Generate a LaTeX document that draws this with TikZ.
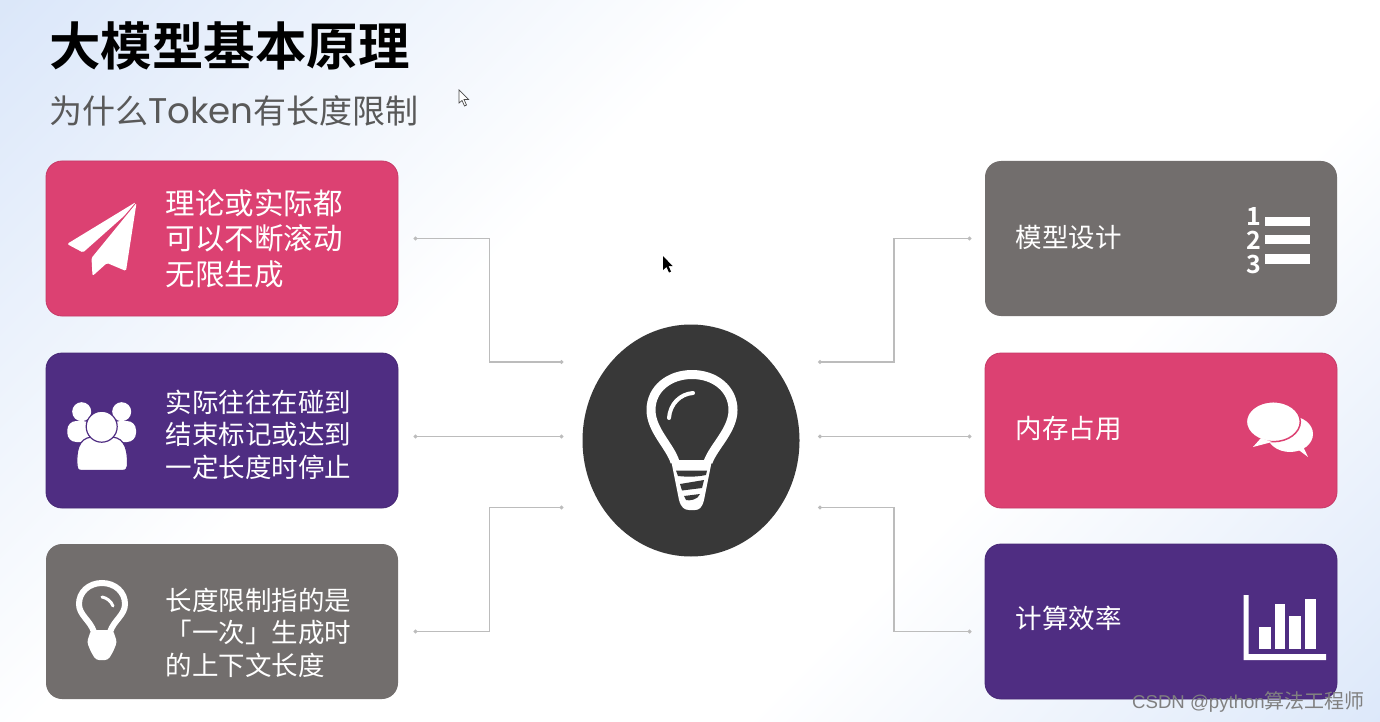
\documentclass[tikz,border=0pt]{standalone}
\usepackage{fontspec}
\setmainfont{Noto Sans CJK SC}[BoldFont={Noto Sans CJK SC Bold}]
\newfontfamily\latinfont[Scale=1.08]{Poppins}
\newfontfamily\markfont[Scale=0.93]{Liberation Sans}
\usetikzlibrary{arrows.meta,shapes.geometric}
\definecolor{bgblue}{HTML}{C6D9F6}
\definecolor{pinkbox}{HTML}{DC4172}
\definecolor{purplebox}{HTML}{4F2D82}
\definecolor{graybox}{HTML}{726E6D}
\definecolor{hubdark}{HTML}{383838}
\definecolor{wiregray}{HTML}{BCBCBC}
\pgfdeclarehorizontalshading{bgshade}{100bp}{color(0bp)=(bgblue); color(36bp)=(white); color(60bp)=(white); color(100bp)=(bgblue)}
\tikzset{
  card/.style={rectangle,rounded corners=16pt,minimum width=352pt,minimum height=155pt,inner sep=0pt},
  wire/.style={draw=wiregray,line width=1.1pt,{Circle[length=4pt]}-{Circle[length=4pt]}},
  bigtext/.style={anchor=west,align=left,text=white,inner sep=0pt,font=\fontsize{29.5}{35.5}\selectfont},
  smalltext/.style={anchor=west,align=left,text=white,inner sep=0pt,font=\fontsize{26.5}{32.5}\selectfont},
  listnum/.style={text=white,inner sep=0pt,font=\fontsize{25}{25}\selectfont\bfseries}
}
\begin{document}
\begin{tikzpicture}[x=1pt,y=-1pt]
\useasboundingbox (0,0) rectangle (1380,722);

% Background
\shade[shading=bgshade,shading angle=135] (0,0) rectangle (1380,722);

% Title
\node[anchor=west,inner sep=0pt,font=\fontsize{51.5}{60}\selectfont\bfseries] (title) at (49,46) {大模型基本原理};
\node[anchor=west,inner sep=0pt,text=black!65,font=\fontsize{33}{40}\selectfont] (subtitle) at (49,111) {为什么{\latinfont Token}有长度限制};

% Left cards
\node[card,fill=pinkbox,draw=pinkbox!90!black,line width=0.8pt] (cardla) at (222,238.5) {};
\node[card,fill=purplebox,draw=purplebox!90!black,line width=0.8pt] (cardlb) at (222,430.5) {};
\node[card,fill=graybox] (cardlc) at (222,621.5) {};

% Right cards
\node[card,fill=graybox] (cardra) at (1161,238.5) {};
\node[card,fill=pinkbox,draw=pinkbox!90!black,line width=0.8pt] (cardrb) at (1161,430.5) {};
\node[card,fill=purplebox,draw=purplebox!90!black,line width=0.8pt] (cardrc) at (1161,621.5) {};

% Card texts
\node[bigtext] (textla) at (165.5,238.5) {理论或实际都\\可以不断滚动\\无限生成};
\node[smalltext] (textlb) at (165.5,434.5) {实际往往在碰到\\结束标记或达到\\一定长度时停止};
\node[smalltext] (textlc) at (165.5,632.5) {长度限制指的是\\「一次」生成时\\的上下文长度};
\node[smalltext] (textra) at (1015.5,237) {模型设计};
\node[smalltext] (textrb) at (1015.5,428.5) {内存占用};
\node[smalltext] (textrc) at (1015.5,618) {计算效率};

% Hub
\node[ellipse,fill=hubdark,minimum width=217pt,minimum height=232pt,inner sep=0pt] (hub) at (691,440.5) {};

% Connector ends
\coordinate (la) at (413.5,238.5);
\coordinate (lb) at (413.5,436.5);
\coordinate (lc) at (413.5,631.5);
\coordinate (ra) at (971.5,238.5);
\coordinate (rb) at (971.5,436.5);
\coordinate (rc) at (971.5,631.5);
\coordinate (hla) at (563.5,362);
\coordinate (hlb) at (563.5,436.5);
\coordinate (hlc) at (563.5,507.5);
\coordinate (hra) at (818,362);
\coordinate (hrb) at (818,436.5);
\coordinate (hrc) at (818,507.5);

\draw[wire] (la) -- (489.5,238.5) -- (489.5,362) -- (hla);
\draw[wire] (lb) -- (hlb);
\draw[wire] (lc) -- (489.5,631.5) -- (489.5,507.5) -- (hlc);
\draw[wire] (ra) -- (894,238.5) -- (894,362) -- (hra);
\draw[wire] (rb) -- (hrb);
\draw[wire] (rc) -- (894,631.5) -- (894,507.5) -- (hrc);

% Hub bulb
\fill[white] (671,460) -- (712,460) -- (704,500) .. controls (702,508) and (699,510) .. (695,510) -- (689,510) .. controls (684,510) and (681,507) .. (679,500) -- cycle;
\draw[white,line width=9pt,line join=round] (675,462) .. controls (670,446) and (651,430) .. (651,410) .. controls (651,389) and (669,374.5) .. (692,374.5) .. controls (715,374.5) and (733,389) .. (733,410) .. controls (733,430) and (714,446) .. (708,462);
\fill[hubdark] (676,470.5) -- (707,470.5) -- (706,475) .. controls (697,477) and (687,477) .. (678,476) -- cycle;
\fill[hubdark] (680,484) -- (704,480) -- (702,488) -- (682,490.5) -- cycle;
\fill[hubdark] (684,496) -- (700,494) .. controls (698,500) and (689,501) .. (686,500) -- cycle;
\draw[white,line width=4pt,line cap=round] (693,393) .. controls (680,394) and (670,404) .. (669,418);

% Plane icon
\fill[white,rounded corners=1.5pt] (136,202) -- (67,244) -- (83,252.5) -- (124,216) -- cycle;
\fill[white,rounded corners=1.5pt] (136.5,203) -- (91.5,258) -- (92.5,276) -- (107,263) -- (126,271) -- cycle;

% People icon
\fill[white] (81.7,411.7) circle (9.5);
\fill[white] (121.7,411.7) circle (9.5);
\fill[white,rounded corners=9pt] (67.3,442) -- (67.3,421) -- (92,421) -- (92,442) -- cycle;
\fill[white,rounded corners=9pt] (111,442) -- (111,421) -- (136,421) -- (136,442) -- cycle;
\filldraw[white,draw=purplebox,line width=1.2pt] (77,466) .. controls (76,452) and (78,438) .. (92,437) -- (112,437) .. controls (126,438) and (128,452) .. (127.5,466) .. controls (127,469) and (126,470.5) .. (122,470.5) -- (82,470.5) .. controls (78,470.5) and (77,469) .. (77,466) -- cycle;
\filldraw[white,draw=purplebox,line width=1.2pt] (101.7,426.7) circle (15.5);

% Small bulb icon
\draw[white,line width=6pt] (94,632) .. controls (90,620) and (79,615) .. (79,604) .. controls (79,592) and (89,583) .. (102,583) .. controls (115,583) and (125,592) .. (125,604) .. controls (125,615) and (114,620) .. (110,632);
\fill[white,rounded corners=3pt] (91,630) -- (113,630) -- (117,642) -- (113,652) -- (108,660) -- (96,660) -- (91,652) -- (87,642) -- cycle;
\draw[white,line width=3pt,line cap=round] (102,597) .. controls (107,598) and (111,601) .. (113,606);

% List icon
\fill[white] (1265,216.7) rectangle (1310,225.7);
\fill[white] (1265,235) rectangle (1310,244.3);
\fill[white] (1265,254.3) rectangle (1310,264);
\node[listnum] (numa) at (1254,216) {1};
\node[listnum] (numb) at (1254,240.5) {2};
\node[listnum] (numc) at (1254,264) {3};

% Chat icon
\fill[white] (1290,434) ellipse (23 and 18);
\fill[white] (1296,448) -- (1308,457) -- (1300,440) -- cycle;
\filldraw[white,draw=pinkbox,line width=1.5pt] (1273.3,421.7) ellipse (27 and 20);
\fill[white] (1261,438) -- (1253,447) -- (1272,442) -- cycle;

% Chart icon
\fill[white] (1243.5,595) -- (1248.7,595) -- (1248.7,654) -- (1326,654) -- (1326,660) -- (1243.5,660) -- cycle;
\fill[white] (1259.3,627.3) rectangle (1270.7,649.3);
\fill[white] (1275,604.3) rectangle (1285,649.3);
\fill[white] (1289.3,616) rectangle (1300.7,649.3);
\fill[white] (1305.3,599.3) rectangle (1316,649.3);

% Mouse pointers
\filldraw[white,draw=black!70,line width=0.7pt] (459,90) -- (459,103) -- (462,100.5) -- (464.5,106) -- (466.5,105) -- (464,99.5) -- (468.5,99.5) -- cycle;
\fill[black] (663,256) -- (663,270) -- (666.5,267) -- (669,272.5) -- (671,271.5) -- (668.5,266) -- (672.5,266) -- cycle;

% Watermark
\node[anchor=east,inner sep=0pt,text=black!50,font=\fontsize{20}{24}\selectfont] (mark) at (1365,702) {{\markfont CSDN @python}算法工程师};

\end{tikzpicture}
\end{document}
